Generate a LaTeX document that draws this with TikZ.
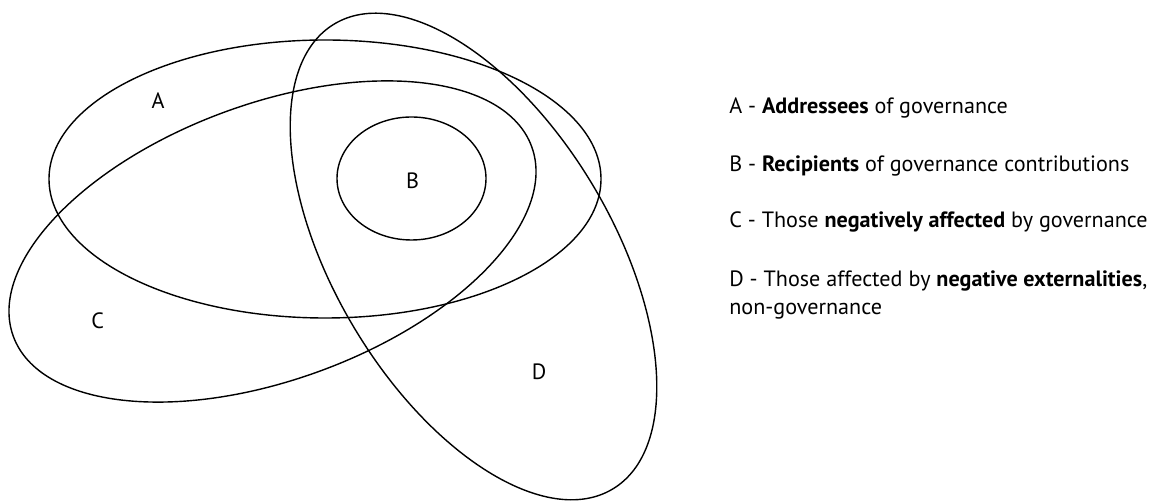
\documentclass[tikz,border=0pt]{standalone}
\usepackage{fontspec}
\setmainfont{PT Sans}
\usetikzlibrary{positioning}

\begin{document}
\begin{tikzpicture}[x=0.02cm,y=-0.02cm,
  set/.style={line width=0.8pt},
  setname/.style={inner sep=0pt,font=\fontsize{12.6}{15}\selectfont},
  legend/.style={anchor=base west,inner sep=0pt,font=\fontsize{12.6}{15}\selectfont}]
\useasboundingbox (0,0) rectangle (1166,502);
% the four sets
\draw[set] (325,179) ellipse [x radius=276,y radius=139];
\draw[set,shift={(272.5,241.5)},rotate=20.1] (0,0) ellipse [x radius=276,y radius=138];
\draw[set,shift={(473.5,256.5)},rotate=-59.1] (0,0) ellipse [x radius=271,y radius=139];
\draw[set] (411.5,178.5) ellipse [x radius=74.5,y radius=61.5];
% set names
\node[setname] (nameA) at (158,101) {A};
\node[setname] (nameB) at (412.5,181) {B};
\node[setname] (nameC) at (97.7,321) {C};
\node[setname] (nameD) at (539,371.5) {D};
% legend
\node[legend] (legA) at (729,114) {A - \textbf{Addressees} of governance};
\node[legend] (legB) at (729,171.5) {B - \textbf{Recipients} of governance contributions};
\node[legend] (legC) at (729,228) {C - Those \textbf{negatively affected} by governance};
\node[legend] (legD) at (729,287) {D - Those affected by \textbf{negative externalities},};
\node[legend] (legD2) at ([yshift=-0.56cm]legD.base west) {non-governance};
\end{tikzpicture}
\end{document}
